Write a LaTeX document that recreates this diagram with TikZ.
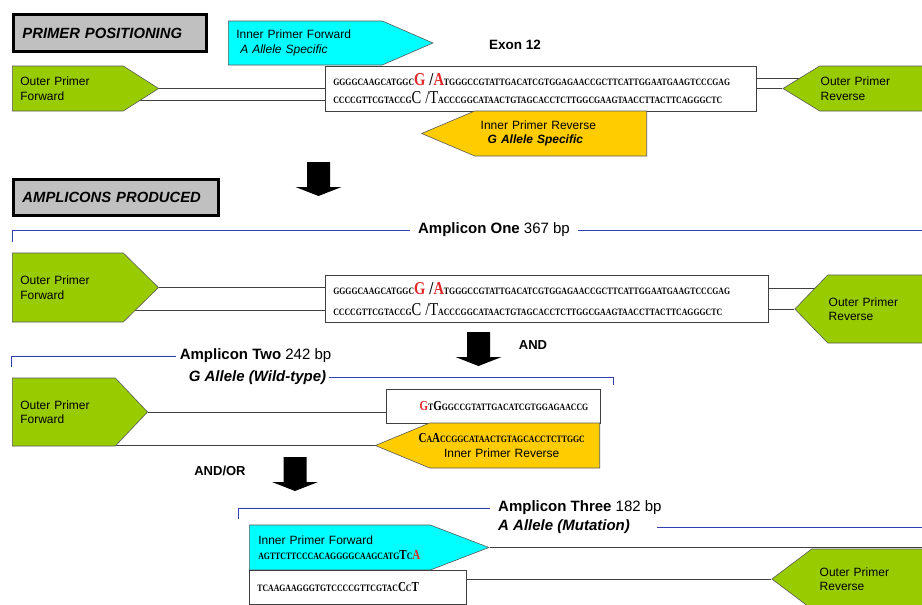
\documentclass[tikz,border=0pt]{standalone}
\usepackage{fontspec}
\setsansfont{Liberation Sans}
\newfontfamily\seqfont{Liberation Serif}
\usepackage{xcolor}
\usepackage{graphicx}
\usepackage{tikz}
\usetikzlibrary{shapes.symbols}
\usetikzlibrary{calc}
\usetikzlibrary{backgrounds}

\definecolor{primergreen}{HTML}{99CC00}
\definecolor{primercyan}{HTML}{00FFFF}
\definecolor{primeryellow}{HTML}{FFCC00}
\definecolor{titlegray}{HTML}{C0C0C0}
\definecolor{ampliblue}{HTML}{3040B0}
\definecolor{snpred}{HTML}{E02828}

\newcommand{\bigbase}[1]{{\fontsize{14.5}{14.5}\selectfont #1}}
\newcommand{\snpbase}[1]{\textcolor{snpred}{\bigbase{#1}}}
\newcommand{\midbase}[1]{{\fontsize{11}{11}\selectfont #1}}
\newcommand{\snpmid}[1]{\textcolor{snpred}{\midbase{#1}}}
\newcommand{\seqrow}[1]{\scalebox{1}[1.25]{#1}}

\begin{document}
\begin{tikzpicture}[x=1pt, y=-1pt]
    \tikzstyle{title box} = [draw=black, line width=3pt, fill=titlegray, anchor=north west, align=left, inner xsep=9pt,
       font=\sffamily\bfseries\itshape\fontsize{14.8}{14.8}\selectfont]
    \tikzstyle{primer} = [signal, draw=black!65, line width=0.6pt, align=left, inner ysep=0pt,
       font=\sffamily\fontsize{12}{14.5}\selectfont]
    \tikzstyle{outer fwd} = [primer, signal to=east, fill=primergreen, anchor=west]
    \tikzstyle{outer rev} = [primer, signal to=west, fill=primergreen, anchor=east]
    \tikzstyle{inner fwd} = [primer, signal to=east, fill=primercyan, anchor=west]
    \tikzstyle{inner rev} = [primer, signal to=west, fill=primeryellow, anchor=east]
    \tikzstyle{dna} = [rectangle, draw=black!75, line width=0.6pt, fill=white, anchor=north west, align=left,
       inner ysep=0pt, font=\seqfont\bfseries\fontsize{7.8}{18}\selectfont]
    \tikzstyle{strand} = [draw=black!75, line width=1pt]
    \tikzstyle{amplicon line} = [draw=ampliblue, line width=1pt]
    \tikzstyle{amplicon label} = [inner xsep=8pt, inner ysep=1pt, font=\sffamily\fontsize{15}{15}\selectfont]
    \tikzstyle{allele label} = [amplicon label, font=\sffamily\bfseries\itshape\fontsize{15}{15}\selectfont]
    \tikzstyle{joiner} = [font=\sffamily\bfseries\fontsize{13}{13}\selectfont]
    \useasboundingbox (0,0) rectangle (922,605);
    \clip (0,0) rectangle (922,605);
    %nodes
    \node[title box, text width=175pt, minimum height=37pt] (posTitle) at (12,13) {PRIMER POSITIONING};
    \node[inner fwd, text width=138pt, inner xsep=8pt, minimum height=44pt, signal pointer angle=47] (ifTop) at (228,43)
       {Inner Primer Forward\\\hspace*{4pt}\itshape A Allele Specific};
    \node[font=\sffamily\bfseries\fontsize{13.5}{13.5}\selectfont] (exon) at (515,45) {Exon 12};
    \node[outer fwd, text width=95pt, inner xsep=8pt, minimum height=45pt, signal pointer angle=65] (ofTop) at (12,88.5)
       {Outer Primer\\Forward};
    \node[dna, text width=415pt, inner xsep=8pt, minimum height=45pt] (dnaTop) at (325,66)
       {\seqrow{GGGGCAAGCATGGC\snpbase{G}\bigbase{\;/}\snpbase{A}TGGGCCGTATTGACATCGTGGAGAACCGCTTCATTGGAATGAAGTCCCGAG}\\
        \seqrow{CCCCGTTCGTACCG{\mdseries\bigbase{C\;/T}}ACCCGGCATAACTGTAGCACCTCTTGGCGAAGTAACCTTACTTCAGGGCTC}};
    \node[outer rev, text width=118pt, inner xsep=1pt, minimum height=45pt, signal pointer angle=63] (orTop) at (940,88.5)
       {Outer Primer\\Reverse};
    \node[inner rev, text width=160pt, inner xsep=6pt, minimum height=45pt, signal pointer angle=46] (irTop) at (647,133.5)
       {Inner Primer Reverse\\\hspace*{7pt}\bfseries\itshape G Allele Specific};

    \node[title box, text width=187pt, minimum height=36pt] (ampTitle) at (12,178) {AMPLICONS PRODUCED};
    \node[amplicon label] (ampOne) at (494,230) {\textbf{Amplicon One} 367 bp};
    \node[outer fwd, text width=95pt, inner xsep=8pt, minimum height=69pt, signal pointer angle=89] (ofOne) at (12,287.5)
       {Outer Primer\\Forward};
    \node[dna, text width=427pt, inner xsep=8pt, minimum height=47pt, font=\seqfont\bfseries\fontsize{7.8}{21}\selectfont] (dnaOne) at (325,275)
       {\seqrow{GGGGCAAGCATGGC\snpbase{G}\bigbase{\;/}\snpbase{A}TGGGCCGTATTGACATCGTGGAGAACCGCTTCATTGGAATGAAGTCCCGAG}\\
        \seqrow{CCCCGTTCGTACCG{\mdseries\bigbase{C\;/T}}ACCCGGCATAACTGTAGCACCTCTTGGCGAAGTAACCTTACTTCAGGGCTC}};
    \node[outer rev, text width=110pt, inner xsep=1pt, minimum height=68pt, signal pointer angle=92] (orOne) at (940,309)
       {Outer Primer\\Reverse};
    \node[joiner] (andOne) at (533,345) {AND};

    \node[amplicon label, inner xsep=4pt] (ampTwo) at (255.5,356) {\textbf{Amplicon Two} 242 bp};
    \node[allele label, inner xsep=3pt] (ampTwoSub) at (257.5,377.5) {G Allele (Wild-type)};
    \node[outer fwd, text width=87pt, inner xsep=8pt, minimum height=68pt, signal pointer angle=93] (ofTwo) at (12,412)
       {Outer Primer\\Forward};
    \node[dna, text width=190pt, inner xsep=12pt, minimum height=34pt, align=right] (dnaTwo) at (386,389)
       {\seqrow{\snpmid{G}T\midbase{G}GGCCGTATTGACATCGTGGAGAACCG}};
    \node[inner rev, text width=170pt, inner xsep=0pt, minimum height=45pt, signal pointer angle=45, align=center] (irTwo) at (600,445.5)
       {\hspace*{-26pt}{\seqfont\bfseries\fontsize{7.8}{8}\selectfont\seqrow{\midbase{C}A\midbase{A}CCGGCATAACTGTAGCACCTCTTGGC}}\\
        \hspace*{-26pt}Inner Primer Reverse};
    \node[joiner] (andOr) at (220,471) {AND/OR};

    \node[amplicon label, anchor=west] (ampThree) at (490,508) {\textbf{Amplicon Three} 182 bp};
    \node[allele label, anchor=west] (ampThreeSub) at ([yshift=-19pt]ampThree.west) {A Allele (Mutation)};
    \node[inner fwd, text width=163pt, inner xsep=9pt, minimum height=45pt, signal pointer angle=42] (ifThree) at (249,547.5)
       {Inner Primer Forward\\{\seqfont\bfseries\fontsize{7.8}{8}\selectfont\seqrow{AGTTCTTCCCACAGGGGCAAGCATG\midbase{T}C\snpmid{A}}}};
    \node[dna, text width=201pt, inner xsep=8pt, minimum height=34pt] (dnaThree) at (249,570)
       {\seqrow{TCAAGAAGGGTGTCCCCGTTCGTAC\midbase{C}C\midbase{T}}};
    \node[outer rev, text width=112pt, inner xsep=8pt, minimum height=60pt, signal pointer angle=74] (orThree) at (940,579)
       {Outer Primer\\Reverse};

    %block arrows
    \foreach \ax/\ay in {318.5/162, 478.5/332, 295/457}
       \fill[black] (\ax-11.5,\ay) -- (\ax+11.5,\ay) -- (\ax+11.5,\ay+25) -- (\ax+23,\ay+25) -- (\ax,\ay+34)
          -- (\ax-23,\ay+25) -- (\ax-11.5,\ay+25) -- cycle;

    %lines
    \coordinate (ofTopLow) at ($(ofTop.center)+(0,11.5)$);
    \coordinate (orTopHigh) at ($(orTop.center)+(0,-10.5)$);
    \coordinate (ofOneLow) at ($(ofOne.center)+(0,22.5)$);
    \coordinate (orOneHigh) at ($(orOne.center)+(0,-21)$);
    \coordinate (ampOneL) at (12,242);
    \coordinate (ampOneR) at (922,230);
    \coordinate (ampTwoL) at (11,367);
    \coordinate (ampTwoR) at (613,385);
    \coordinate (ampThreeL) at (238,519);
    \coordinate (ampThreeR) at (922,525);
    \begin{pgfonlayer}{background}
      \draw[strand] (ofTop.east) -- (dnaTop.west |- ofTop.east);
      \draw[strand] (ofTopLow) -- (dnaTop.west |- ofTopLow);
      \draw[strand] (dnaTop.east |- orTopHigh) -- (orTopHigh);
      \draw[strand] (dnaTop.east |- orTop.west) -- (orTop.west);

      \draw[strand] (ofOne.east) -- (dnaOne.west |- ofOne.east);
      \draw[strand] (ofOneLow) -- (dnaOne.west |- ofOneLow);
      \draw[strand] (dnaOne.east |- orOneHigh) -- (orOneHigh);
      \draw[strand] (dnaOne.east |- orOne.west) -- (orOne.west);

      \draw[strand] (ofTwo.east) -- (dnaTwo.west |- ofTwo.east);
      \draw[strand] (ofTwo.center |- irTwo.west) -- (irTwo.west);

      \draw[strand] (ifThree.east) -- (ampThreeR |- ifThree.east);
      \draw[strand] (dnaThree.east |- orThree.west) -- (orThree.west);
    \end{pgfonlayer}
    \draw[amplicon line] (ampOneL) |- (ampOne.west);
    \draw[amplicon line] (ampOne.east) -- (ampOneR |- ampOne.east);
    \draw[amplicon line] (ampTwoL) |- (ampTwo.west);
    \draw[amplicon line] (ampTwoSub.east) -| (ampTwoR);
    \draw[amplicon line] (ampThreeL) |- (ampThree.west);
    \draw[amplicon line] ([xshift=19pt]ampThreeSub.east) -- (ampThreeR |- ampThreeSub.east);
\end{tikzpicture}
\end{document}
